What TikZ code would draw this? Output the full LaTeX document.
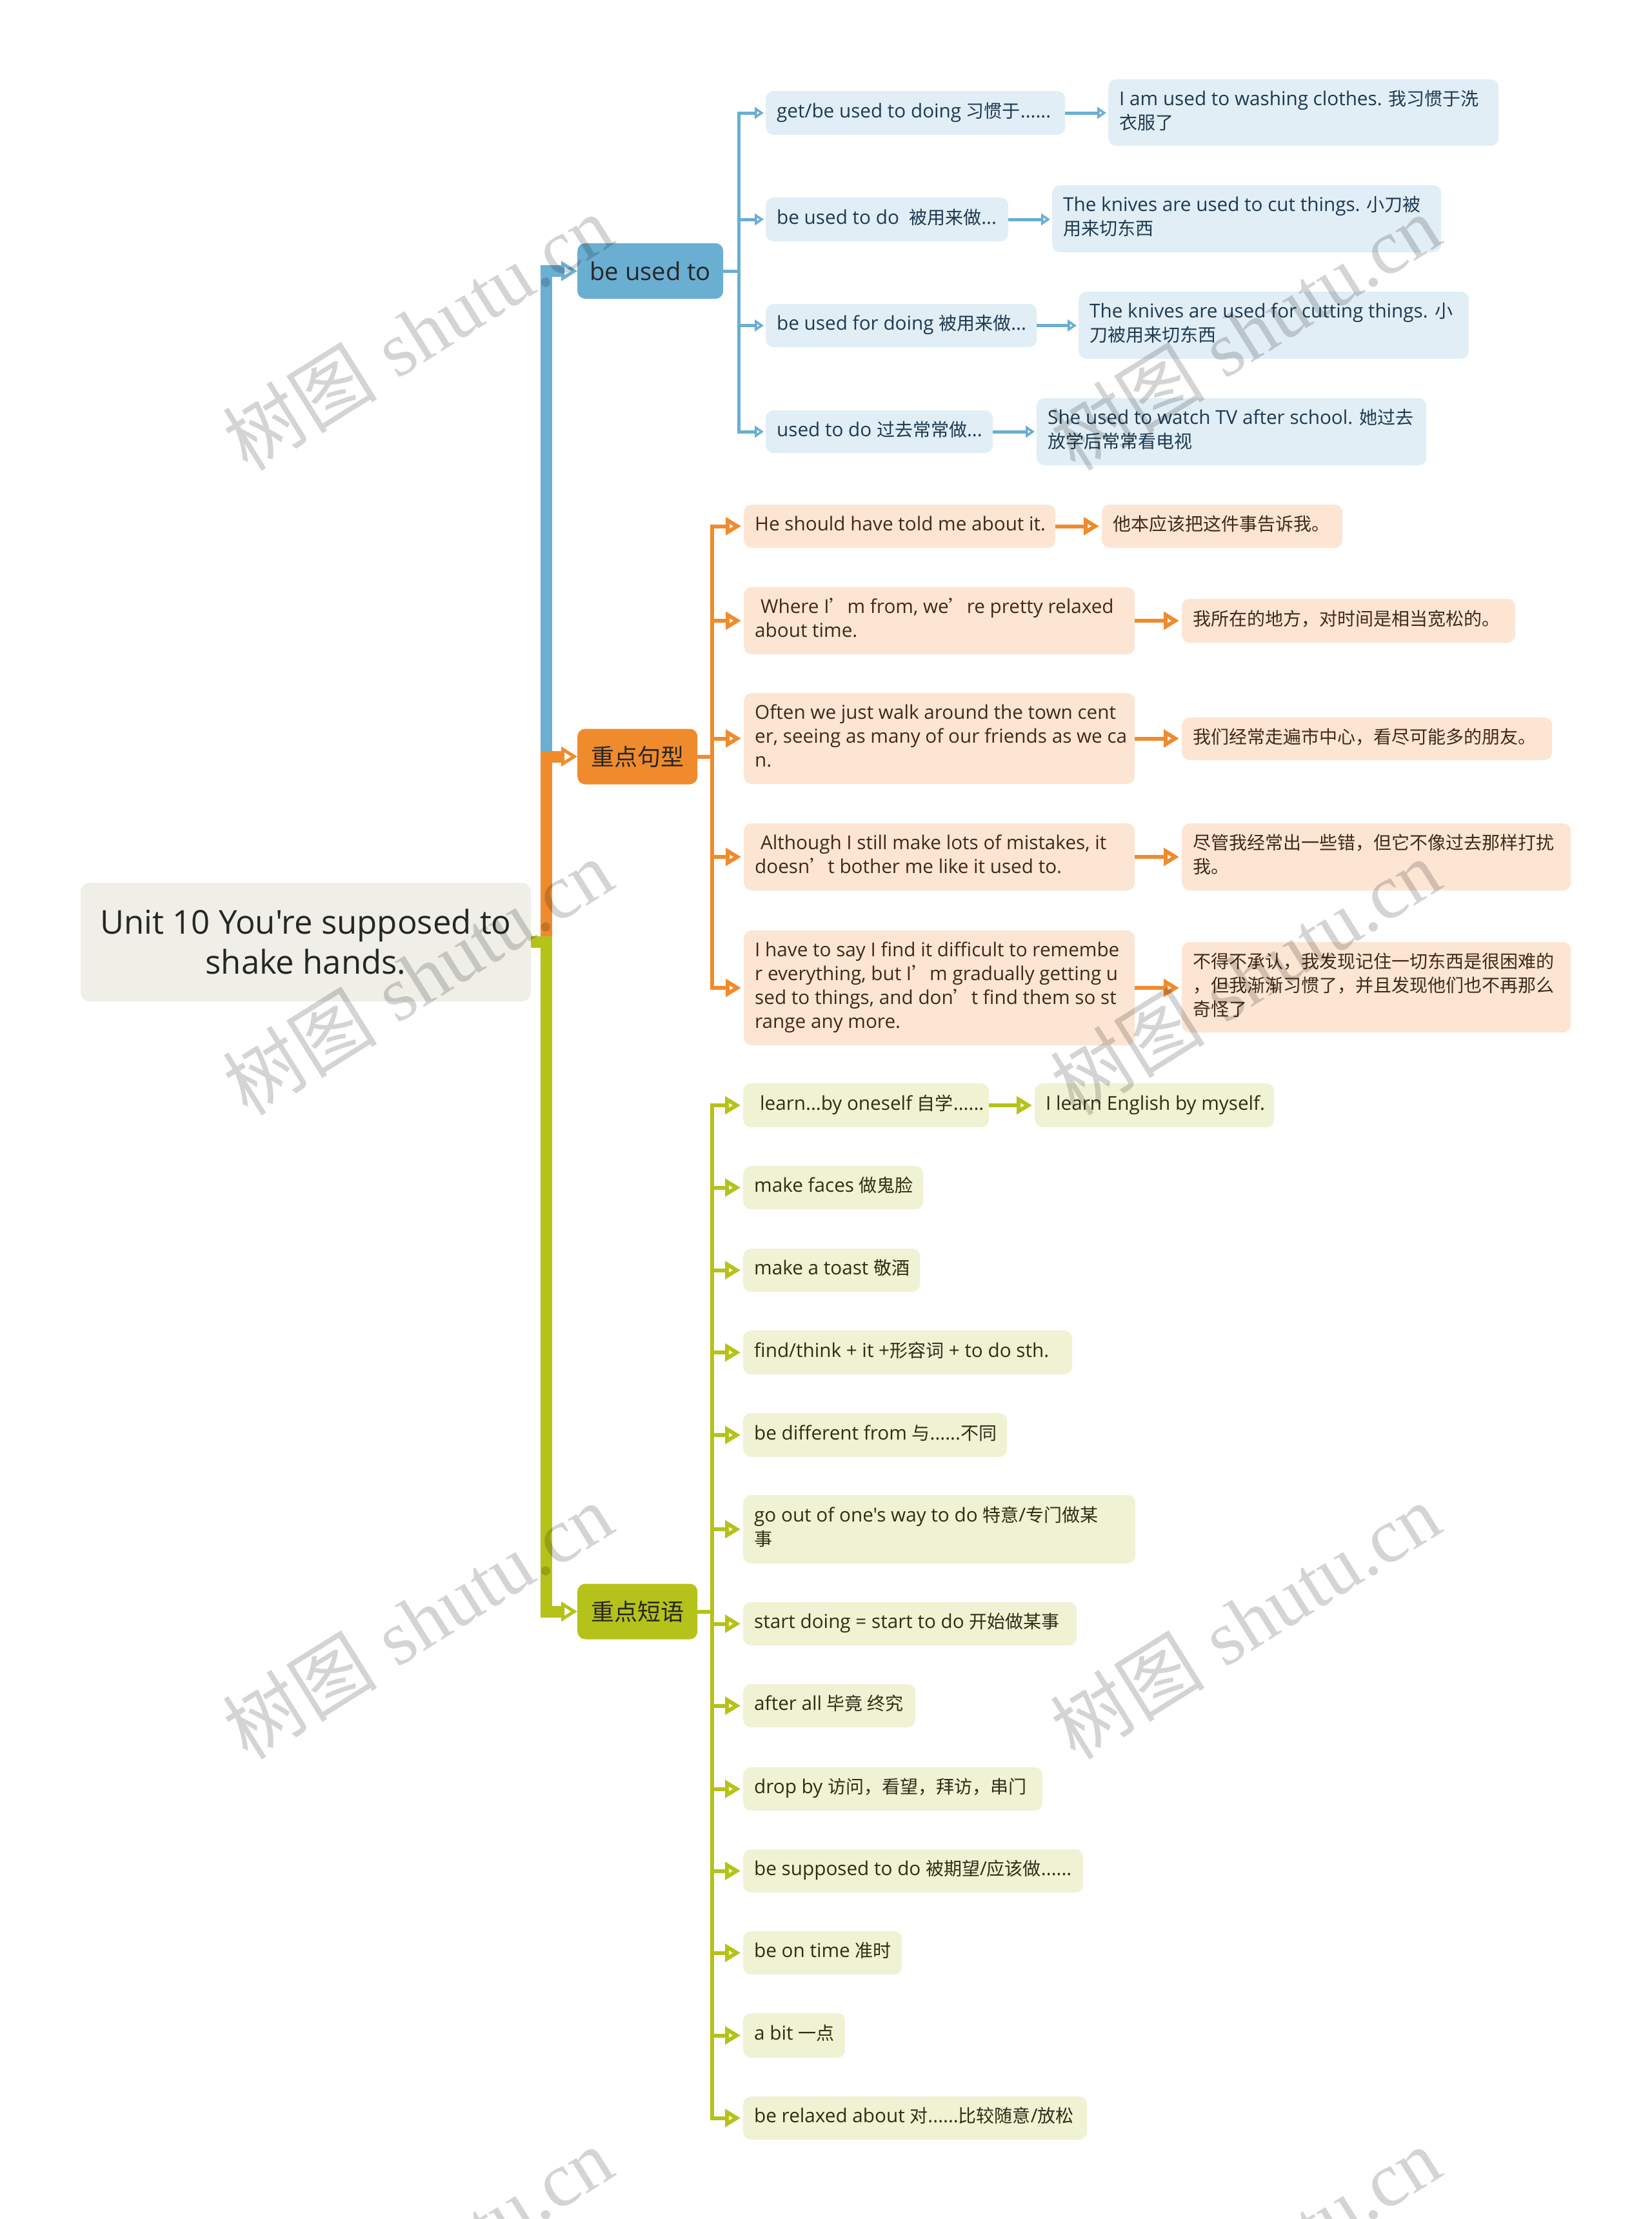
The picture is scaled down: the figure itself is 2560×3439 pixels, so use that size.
\documentclass[tikz,border=0pt]{standalone}
\usepackage{fontspec}
\setmainfont{Open Sans}[Scale=1.06, Ligatures=TeXOff]
\newfontfamily\hanzifont{Noto Sans CJK SC}
\newfontfamily\stampfont{Liberation Serif}
\usetikzlibrary{arrows.meta}
\definecolor{mainblue}{HTML}{6AAED2}
\definecolor{paleblue}{HTML}{E1EEF6}
\definecolor{inkblue}{HTML}{1E3A50}
\definecolor{mainorange}{HTML}{F08B2D}
\definecolor{paleorange}{HTML}{FDE5D4}
\definecolor{inkorange}{HTML}{3F2A18}
\definecolor{maingreen}{HTML}{B5C21A}
\definecolor{palegreen}{HTML}{F0F2D4}
\definecolor{inkgreen}{HTML}{2D2E14}
\definecolor{unitgray}{HTML}{EFEFE8}
\tikzset{
  mmunit/.style={rectangle, rounded corners=14pt, fill=unitgray, text=black!85,
                 align=center, inner sep=0pt, font=\fontsize{48}{62}\selectfont},
  mmhead/.style={rectangle, rounded corners=12pt, inner sep=0pt, anchor=west,
                 minimum height=86pt, text=black!85,
                 font=\fontsize{36}{44}\selectfont},
  mmitem/.style={rectangle, rounded corners=12pt, inner xsep=17pt,
                 inner ysep=0pt, anchor=west, font=\fontsize{28}{37}\selectfont},
  blueitem/.style={mmitem, fill=paleblue, text=inkblue},
  orangeitem/.style={mmitem, fill=paleorange, text=inkorange},
  greenitem/.style={mmitem, fill=palegreen, text=inkgreen},
  mmtrunk/.style={draw, line width=18pt, line join=miter,
                  -{Triangle[open, length=25pt, width=30pt, line width=5pt]}},
  mmtwig/.style={draw, line width=5pt, line join=miter, shorten >=3pt,
                 -{Triangle[open, length=14pt, width=18pt]}},
  mmstem/.style={draw, line width=6pt, line join=miter, shorten >=4pt,
                 -{Triangle[open, length=24pt, width=27pt]}},
  mmstamp/.style={rotate=32, text=black, text opacity=0.17,
                  font=\fontsize{120}{120}\selectfont}
}
\newcommand{\hanzi}[1]{{\hanzifont #1}}
\newcommand{\itemlines}[2]{\makebox[#1][l]{\begin{tabular}{@{}l@{}}#2\end{tabular}}}

\begin{document}
\begin{tikzpicture}[x=1pt, y=-1pt]
  \useasboundingbox (0,0) rectangle (2560,3439);
  \node[mmunit, minimum width=698pt, minimum height=184pt] (unit) at (474,1460)
    {Unit 10 You're supposed to\\shake hands.};
  % head name/centre y/width/fork x/colour/text
  \foreach \n/\y/\w/\f/\c/\t in {%
      usedto/420/226/1145/blue/be used to,
      sentences/1172.5/186/1104/orange/\hanzi{重点句型},
      phrases/2497.5/186/1104/green/\hanzi{重点短语}}
    { \node[mmhead, fill=main\c, minimum width=\w pt] (\n) at (895,\y) {\t};
      \coordinate (\n-fork) at (\f,\y); }
  % the spine out of the unit box, one colour per head (green on top)
  \coordinate (spine) at (847,1460);
  \foreach \n/\c in {usedto/blue, sentences/orange, phrases/green}
    { \draw[mmtrunk, draw=main\c] (unit.east) -- (spine) |- (\n.west); }

  % item name/left/centre y/width/height/text
  \foreach \n/\x/\y/\w/\h/\t in {%
      b1/1187/175/464/68/{get/be used to doing \hanzi{习惯于}......},
      b1-g/1718/174.5/605/103/{I am used to washing clothes. \hanzi{我习惯于洗}\\\hanzi{衣服了}},
      b2/1187/340/376/68/{be used to do~ \hanzi{被用来做}...},
      b2-g/1631/339/603/104/{The knives are used to cut things. \hanzi{小刀被}\\\hanzi{用来切东西}},
      b3/1187/504.5/420/67/{be used for doing \hanzi{被用来做}...},
      b3-g/1672/504/605/104/{The knives are used for cutting things. \hanzi{小}\\\hanzi{刀被用来切东西}},
      b4/1187/669/352/66/{used to do \hanzi{过去常常做}...},
      b4-g/1607/669/604/104/{She used to watch TV after school. \hanzi{她过去}\\\hanzi{放学后常常看电视}}}
    { \pgfmathsetmacro{\tw}{\w-34}
      \node[blueitem, minimum width=\w pt, minimum height=\h pt] (\n) at (\x,\y)
        {\itemlines{\tw pt}{\t}}; }
  \foreach \n in {b1, b2, b3, b4}
    { \draw[mmtwig, draw=mainblue] (usedto.east) -- (usedto-fork) |- (\n.west);
      \draw[mmtwig, draw=mainblue] (\n.east) -- (\n.east -| \n-g.west); }

  \foreach \n/\x/\y/\w/\h/\t in {%
      o1/1153/815.5/483/67/{He should have told me about it.},
      o1-g/1708/815.5/373/67/{\hanzi{他本应该把这件事告诉我。}},
      o2/1153/962/606/104/{\hspace{.3em}Where I\hanzi{’}m from, we\hanzi{’}re pretty relaxed\\about time.},
      o2-g/1832/962/517/68/{\hanzi{我所在的地方，对时间是相当宽松的。}},
      o3/1153/1144.5/606/141/{Often we just walk around the town cent\\er, seeing as many of our friends as we ca\\n.},
      o3-g/1832/1145/574/66/{\hanzi{我们经常走遍市中心，看尽可能多的朋友。}},
      o4/1153/1328/606/104/{\hspace{.3em}Although I still make lots of mistakes, it\\doesn\hanzi{’}t bother me like it used to.},
      o4-g/1832/1328/603/104/{\hanzi{尽管我经常出一些错，但它不像过去那样打扰}\\\hanzi{我。}},
      o5/1153/1531/606/178/{I have to say I find it difficult to remembe\\r everything, but I\hanzi{’}m gradually getting u\\sed to things, and don\hanzi{’}t find them so st\\range any more.},
      o5-g/1832/1530/603/140/{\hanzi{不得不承认，我发现记住一切东西是很困难的}\\\hanzi{，但我渐渐习惯了，并且发现他们也不再那么}\\\hanzi{奇怪了}}}
    { \pgfmathsetmacro{\tw}{\w-34}
      \node[orangeitem, minimum width=\w pt, minimum height=\h pt] (\n) at (\x,\y)
        {\itemlines{\tw pt}{\t}}; }
  \foreach \n in {o1, o2, o3, o4, o5}
    { \draw[mmstem, draw=mainorange] (sentences.east) -- (sentences-fork) |- (\n.west);
      \draw[mmstem, draw=mainorange] (\n.east) -- (\n.east -| \n-g.west); }

  \foreach \n/\x/\y/\w/\h/\t in {%
      g1/1152/1713/381/68/{\hspace{.3em}learn...by oneself \hanzi{自学}......},
      g1-g/1604/1713/371/68/{I learn English by myself.},
      g2/1152/1840.5/279/67/{make faces \hanzi{做鬼脸}},
      g3/1152/1968.5/274/67/{make a toast \hanzi{敬酒}},
      g4/1152/2096/510/68/{find/think + it +\hanzi{形容词} + to do sth.},
      g5/1152/2224/409/68/{be different from \hanzi{与}......\hanzi{不同}},
      g6/1152/2370/608/106/{go out of one's way to do \hanzi{特意}/\hanzi{专门做某}\\\hanzi{事}},
      g7/1152/2516.5/517/67/{start doing = start to do \hanzi{开始做某事}},
      g8/1152/2643.5/267/67/{after all \hanzi{毕竟 终究}},
      g9/1152/2772.5/464/67/{drop by \hanzi{访问，看望，拜访，串门}},
      g10/1152/2899.5/527/67/{be supposed to do \hanzi{被期望}/\hanzi{应该做}......},
      g11/1152/3026.5/246/67/{be on time \hanzi{准时}},
      g12/1152/3154.5/158/69/{a bit \hanzi{一点}},
      g13/1152/3282.5/533/67/{be relaxed about \hanzi{对}......\hanzi{比较随意}/\hanzi{放松}}}
    { \pgfmathsetmacro{\tw}{\w-34}
      \node[greenitem, minimum width=\w pt, minimum height=\h pt] (\n) at (\x,\y)
        {\itemlines{\tw pt}{\t}}; }
  \foreach \n in {g1, g2, g3, g4, g5, g6, g7, g8, g9, g10, g11, g12, g13}
    { \draw[mmstem, draw=maingreen] (phrases.east) -- (phrases-fork) |- (\n.west); }
  \draw[mmstem, draw=maingreen] (g1.east) -- (g1.east -| g1-g.west);

  % the site stamp, over everything
  \foreach \x in {647, 1930}
    \foreach \y in {515, 1514, 2512, 3510}
      { \node[mmstamp] (stamp-\x-\y) at (\x,\y) {\hanzi{树图} {\stampfont shutu.cn}}; }
\end{tikzpicture}
\end{document}
